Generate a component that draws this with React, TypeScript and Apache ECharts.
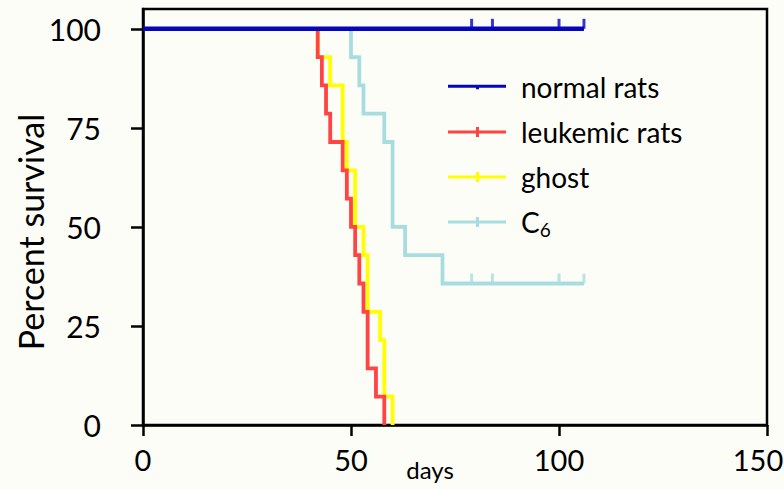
import React, { useEffect, useRef } from "react";
import * as echarts from "echarts";

// ---- data (days, percent survival) ----
const normalDays = [0, 106];
const normalSurv = [100, 100];

const leukemicDays = [0, 42, 43, 44, 45, 48, 49, 50, 51, 52, 53, 54, 56, 58];
const leukemicSurv = [100, 92.86, 85.71, 78.57, 71.43, 64.29, 57.14, 50, 42.86, 35.71, 28.57, 14.29, 7.14, 0];

const ghostDays = [0, 42, 45, 48, 49, 51, 53, 54, 57, 58, 60];
const ghostSurv = [100, 92.86, 85.71, 71.43, 64.29, 50, 42.86, 28.57, 21.43, 7.14, 0];

const c6Days = [0, 50, 52, 53, 58, 60, 63, 72, 106];
const c6Surv = [100, 92.86, 85.71, 78.57, 71.43, 50, 42.86, 35.71, 35.71];

const normalCensorDays = [79, 84, 100, 106];
const normalCensorSurv = [100, 100, 100, 100];
const c6CensorDays = [79, 84, 100, 106];
const c6CensorSurv = [35.71, 35.71, 35.71, 35.71];

const yTicks = [0, 25, 50, 75, 100];
const xTicks = [0, 50, 100, 150];

const FONT = "Lato";

const zip = (xs: number[], ys: number[]) => xs.map((x, i) => [x, ys[i]]);

const lineIcon = "path://M0,4.5 L58,4.5 L58,7.5 L0,7.5 Z M28,1 L31,1 L31,11 L28,11 Z";
const dotIcon = "path://M0,1 L58,1 L58,4 L0,4 Z M28,3 L31,3 L31,5.5 L28,5.5 Z";

export default function App() {
  const ref = useRef<HTMLDivElement>(null);
  useEffect(() => {
    if (!ref.current) return;
    const chart = echarts.init(ref.current, null, { renderer: "svg" });
    const censor = (name: string, xs: number[], ys: number[], color: string) => ({
      name,
      type: "scatter",
      data: zip(xs, ys),
      symbol: "rect",
      symbolSize: [3, 10],
      symbolOffset: [0, -5],
      itemStyle: { color },
      z: 5,
      silent: true,
    });
    const km = (name: string, xs: number[], ys: number[], color: string, width: number, z: number) => ({
      name,
      type: "line",
      step: "end",
      data: zip(xs, ys),
      showSymbol: false,
      symbol: "none",
      lineStyle: { color, width, cap: "butt", join: "miter" },
      itemStyle: { color },
      z,
    });
    chart.setOption({
      animation: false,
      backgroundColor: "#fdfdf8",
      textStyle: { fontFamily: FONT },
      grid: {
        left: 143,
        right: 17,
        top: 9,
        bottom: 64,
        show: true,
        borderColor: "#000",
        borderWidth: 2.5,
        backgroundColor: "transparent",
        containLabel: false,
        outerBoundsMode: "none",
      },
      legend: {
        orient: "vertical",
        left: 443,
        top: 67,
        itemWidth: 58,
        itemHeight: 12,
        itemGap: 15,
        selectedMode: false,
        data: [
          { name: "normal rats", icon: dotIcon },
          { name: "leukemic rats", icon: lineIcon },
          { name: "ghost", icon: lineIcon },
          { name: "C6", icon: lineIcon },
        ],
        formatter: (n: string) => (n === "C6" ? "C{sub|6}" : n),
        textStyle: {
          fontFamily: FONT,
          fontSize: 28,
          color: "#000",
          lineHeight: 30,
          padding: [0, 0, 0, 10],
          rich: {
            sub: { fontFamily: FONT, fontSize: 19, color: "#000", padding: [14, 0, 0, 0] },
          },
        },
      },
      xAxis: {
        type: "value",
        min: 0,
        max: 150,
        interval: 50,
        name: "days",
        nameLocation: "middle",
        nameGap: 32,
        nameMoveOverlap: false,
        nameTextStyle: { fontFamily: FONT, fontSize: 24, color: "#000", padding: [0, 50, 0, 0] },
        axisLine: { show: true, onZero: false, lineStyle: { color: "#000", width: 2.5 } },
        axisTick: { show: true, length: 11, lineStyle: { color: "#000", width: 2.5 }, customValues: xTicks },
        axisLabel: {
          fontFamily: FONT,
          fontSize: 29,
          color: "#000",
          margin: 20,
          customValues: xTicks,
          formatter: (v: number) => (v === 150 ? "{last|150}" : String(v)),
          rich: { last: { fontFamily: FONT, fontSize: 29, color: "#000", padding: [0, 18, 0, 0] } },
        },
        splitLine: { show: false },
      },
      yAxis: {
        type: "value",
        min: 0,
        max: 105,
        name: "Percent survival",
        nameLocation: "middle",
        nameGap: 96,
        nameMoveOverlap: false,
        nameTextStyle: { fontFamily: FONT, fontSize: 34, color: "#000", padding: [0, 30, 0, 0] },
        axisLine: { show: true, onZero: false, lineStyle: { color: "#000", width: 2.5 } },
        axisTick: { show: true, length: 12, lineStyle: { color: "#000", width: 2.5 }, customValues: yTicks },
        axisLabel: { fontFamily: FONT, fontSize: 30, color: "#000", margin: 42, customValues: yTicks },
        splitLine: { show: false },
      },
      series: [
        km("ghost", ghostDays, ghostSurv, "#ffff00", 3.8, 2),
        km("C6", c6Days, c6Surv, "#a8dde0", 3.8, 2),
        km("leukemic rats", leukemicDays, leukemicSurv, "#ff4444", 3.8, 3),
        km("normal rats", normalDays, normalSurv, "#0505be", 4.5, 4),
        censor("normal rats censored", normalCensorDays, normalCensorSurv, "#0505be"),
        censor("C6 censored", c6CensorDays, c6CensorSurv, "#a8dde0"),
      ],
    });
    return () => chart.dispose();
  }, []);
  return (
    <div
      ref={ref}
      style={{ position: "fixed", left: 0, top: 0, width: 784, height: 489 }}
    />
  );
}
